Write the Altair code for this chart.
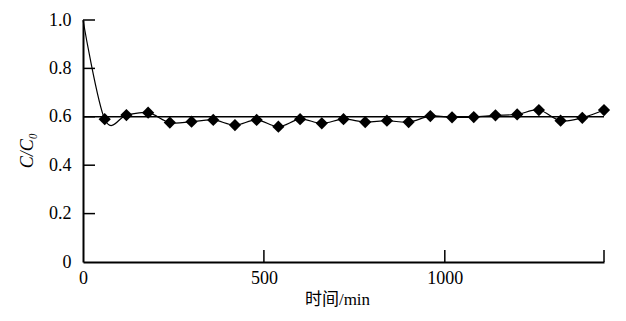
import altair as alt
import pandas as pd

time_min = [0, 60, 120, 180, 240, 300, 360, 420, 480, 540, 600, 660, 720,
            780, 840, 900, 960, 1020, 1080, 1140, 1200, 1260, 1320, 1380, 1440]
c_ratio = [1.0, 0.59, 0.607, 0.617, 0.576, 0.58, 0.587, 0.566, 0.587, 0.559,
           0.59, 0.573, 0.59, 0.578, 0.584, 0.578, 0.603, 0.598, 0.599, 0.606,
           0.61, 0.628, 0.584, 0.596, 0.628]
ref_level = [0.6]
x_tick_vals = [500, 1000, 1440]
y_tick_vals = [0.2, 0.4, 0.6, 0.8, 1.0]
x_label_vals = [0, 500, 1000]
y_label_vals = [0, 0.2, 0.4, 0.6, 0.8, 1.0]

FONT = "Times New Roman, Liberation Serif, Noto Sans CJK SC, serif"

df = pd.DataFrame({"t": time_min, "c": c_ratio})
df_pts = df[df["t"] > 0]
df_ref = pd.DataFrame({"t": [0], "t2": [1440], "c": ref_level})
df_xt = pd.DataFrame({"t": x_tick_vals})
df_yt = pd.DataFrame({"c": y_tick_vals})

xs = alt.Scale(domain=[0, 1440], nice=False)
ys = alt.Scale(domain=[0, 1], nice=False)

x_axis = alt.Axis(values=x_label_vals, title="时间/min", ticks=False, tickSize=0,
                  grid=False, domainColor="black", domainWidth=2,
                  labelFont=FONT, labelFontSize=18, labelColor="black",
                  labelPadding=7, labelFlush=False,
                  labelExpr="format(datum.value, 'd')",
                  titleFont=FONT, titleFontSize=17, titleFontWeight="normal",
                  titleColor="black", titleX=254, titleY=37,
                  titleBaseline="middle", titleAlign="center")
y_axis = alt.Axis(values=y_label_vals, title="C/C₀", ticks=False, tickSize=0,
                  grid=False, domainColor="black", domainWidth=2,
                  labelFont=FONT, labelFontSize=18, labelColor="black",
                  labelPadding=12,
                  labelExpr="datum.value == 0 ? '0' : format(datum.value, '.1f')",
                  titleFont=FONT, titleFontSize=18, titleFontWeight="normal",
                  titleFontStyle="italic", titleColor="black",
                  titleX=-56, titleY=130, titleAngle=-90,
                  titleBaseline="middle", titleAlign="center")

line = alt.Chart(df).mark_line(interpolate="cardinal", color="black",
                               strokeWidth=1.2).encode(
    x=alt.X("t:Q", scale=xs, axis=x_axis),
    y=alt.Y("c:Q", scale=ys, axis=y_axis),
)
pts = alt.Chart(df_pts).mark_point(shape="diamond", filled=True, color="black",
                                   size=150, opacity=1).encode(
    x=alt.X("t:Q", scale=xs),
    y=alt.Y("c:Q", scale=ys),
)
ref = alt.Chart(df_ref).mark_rule(color="black", strokeWidth=1.5).encode(
    x=alt.X("t:Q", scale=xs),
    x2="t2:Q",
    y=alt.Y("c:Q", scale=ys),
)
xt = alt.Chart(df_xt).mark_rule(color="black", strokeWidth=1.5).encode(
    x=alt.X("t:Q", scale=xs),
    y=alt.value(242),
    y2=alt.value(230),
)
yt = alt.Chart(df_yt).mark_rule(color="black", strokeWidth=1.5).encode(
    y=alt.Y("c:Q", scale=ys),
    x=alt.value(0),
    x2=alt.value(12),
)

chart = alt.layer(ref, line, pts, xt, yt).properties(
    width=521, height=242,
    autosize=alt.AutoSizeParams(type="none"),
    padding={"left": 75, "top": 12, "right": 10, "bottom": 50},
    background="white",
).configure_view(stroke=None)

chart.save("out.html", embed_options={"renderer": "svg", "actions": False})
